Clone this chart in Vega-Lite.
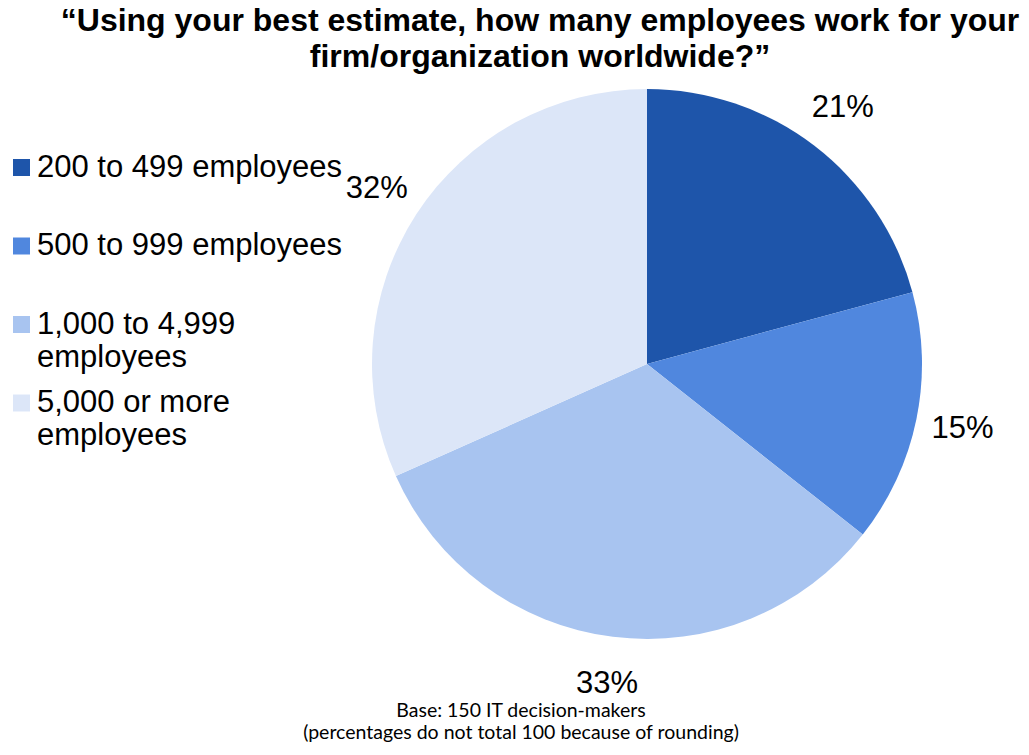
{
  "$schema": "https://vega.github.io/schema/vega-lite/v6.json",
  "autosize": {"type": "none"},
  "width": 764,
  "height": 550,
  "padding": {"left": 265, "top": 89, "right": 0, "bottom": 116},
  "background": "white",
  "config": {"view": {"stroke": null}},
  "title": {
    "text": ["“Using your best estimate, how many employees work for your", "firm/organization worldwide?”"],
    "font": "Liberation Sans",
    "fontSize": 32,
    "fontWeight": "bold",
    "color": "black",
    "anchor": "middle",
    "frame": "group",
    "dx": -107,
    "offset": 15,
    "lineHeight": 36
  },
  "layer": [
    {
      "data": {
        "values": [
          {"size": "200 to 499 employees", "share": 0.21, "rank": 1},
          {"size": "500 to 999 employees", "share": 0.15, "rank": 2},
          {"size": "1,000 to 4,999 employees", "share": 0.33, "rank": 3},
          {"size": "5,000 or more employees", "share": 0.32, "rank": 4}
        ]
      },
      "layer": [
        {
          "mark": {"type": "arc", "radius": 275, "stroke": null},
          "encoding": {
            "theta": {"field": "share", "type": "quantitative", "stack": true},
            "order": {"field": "rank", "type": "quantitative"},
            "color": {
              "field": "size",
              "type": "nominal",
              "scale": {
                "domain": ["200 to 499 employees", "500 to 999 employees", "1,000 to 4,999 employees", "5,000 or more employees"],
                "range": ["#1E55AA", "#5087DE", "#A8C4F0", "#DCE6F8"]
              },
              "legend": {
                "orient": "none",
                "legendX": -259,
                "legendY": 63,
                "title": null,
                "padding": 0,
                "symbolType": "square",
                "symbolSize": 289,
                "symbolStrokeWidth": 0,
                "symbolOpacity": 1,
                "labelFont": "Liberation Sans",
                "labelFontSize": 31,
                "labelColor": "black",
                "labelLimit": 400,
                "labelOffset": 0,
                "rowPadding": 13.5,
                "gridAlign": "all",
                "labelExpr": "datum.label == '1,000 to 4,999 employees' ? ['1,000 to 4,999', 'employees'] : datum.label == '5,000 or more employees' ? ['5,000 or more', 'employees'] : datum.label",
                "encode": {
                  "labels": {
                    "update": {
                      "dy": {"signal": "indexof(datum.label, ',000') >= 0 ? 17.5 : 0"},
                      "lineHeight": {"value": 35}
                    }
                  }
                }
              }
            }
          }
        },
        {
          "mark": {"type": "text", "radius": 322, "font": "Liberation Sans", "fontSize": 31, "color": "black", "baseline": "middle", "align": "center"},
          "encoding": {
            "theta": {"field": "share", "type": "quantitative", "stack": true},
            "order": {"field": "rank", "type": "quantitative"},
            "text": {"field": "share", "type": "quantitative", "format": ".0%"}
          }
        }
      ]
    },
    {
      "data": {
        "values": [
          {"line": 1, "note": "Base: 150 IT decision-makers"},
          {"line": 2, "note": "(percentages do not total 100 because of rounding)"}
        ]
      },
      "mark": {"type": "text", "font": "Lato", "fontSize": 19.5, "color": "black", "baseline": "middle", "align": "center", "dx": -126},
      "encoding": {
        "y": {"field": "line", "type": "ordinal", "axis": null, "scale": {"type": "point", "range": [622, 644], "padding": 0}},
        "text": {"field": "note", "type": "nominal"}
      }
    }
  ]
}
